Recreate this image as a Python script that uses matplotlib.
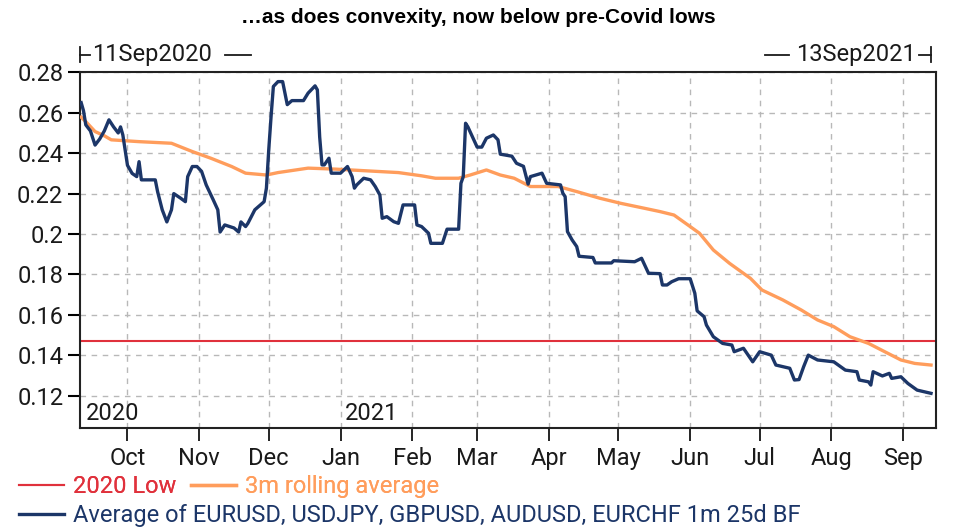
import matplotlib
matplotlib.use("Agg")
import matplotlib.pyplot as plt
import matplotlib.dates as mdates
from matplotlib.lines import Line2D
import pandas as pd

# 1m 25d butterfly average (navy)
bf_dates = [
    "2020-09-11", "2020-09-12", "2020-09-13", "2020-09-15", "2020-09-17", "2020-09-19",
    "2020-09-21", "2020-09-23", "2020-09-25", "2020-09-27", "2020-09-28", "2020-09-29",
    "2020-09-30", "2020-10-01", "2020-10-03", "2020-10-05", "2020-10-06", "2020-10-07",
    "2020-10-13", "2020-10-14", "2020-10-16", "2020-10-18", "2020-10-20", "2020-10-21",
    "2020-10-24", "2020-10-26", "2020-10-27", "2020-10-29", "2020-10-31", "2020-11-02",
    "2020-11-04", "2020-11-07", "2020-11-09", "2020-11-10", "2020-11-12", "2020-11-16",
    "2020-11-18", "2020-11-19", "2020-11-21", "2020-11-22", "2020-11-25", "2020-11-29",
    "2020-11-30", "2020-12-01", "2020-12-02", "2020-12-03", "2020-12-05", "2020-12-07",
    "2020-12-09", "2020-12-11", "2020-12-16", "2020-12-18", "2020-12-21", "2020-12-22",
    "2020-12-23", "2020-12-24", "2020-12-25", "2020-12-27", "2020-12-28", "2021-01-01",
    "2021-01-04", "2021-01-06", "2021-01-07", "2021-01-08", "2021-01-11", "2021-01-14",
    "2021-01-16", "2021-01-18", "2021-01-19", "2021-01-21", "2021-01-24", "2021-01-26",
    "2021-01-28", "2021-02-02", "2021-02-03", "2021-02-05", "2021-02-08", "2021-02-09",
    "2021-02-14", "2021-02-16", "2021-02-21", "2021-02-22", "2021-02-23", "2021-02-24",
    "2021-02-25", "2021-02-27", "2021-03-01", "2021-03-03", "2021-03-05", "2021-03-08",
    "2021-03-10", "2021-03-11", "2021-03-16", "2021-03-18", "2021-03-21", "2021-03-23",
    "2021-03-24", "2021-03-29", "2021-03-31", "2021-04-06", "2021-04-07", "2021-04-08",
    "2021-04-09", "2021-04-11", "2021-04-13", "2021-04-14", "2021-04-20", "2021-04-21",
    "2021-04-28", "2021-04-29", "2021-05-08", "2021-05-11", "2021-05-13", "2021-05-14",
    "2021-05-19", "2021-05-20", "2021-05-22", "2021-05-24", "2021-05-27", "2021-06-01",
    "2021-06-03", "2021-06-04", "2021-06-07", "2021-06-08", "2021-06-11", "2021-06-15",
    "2021-06-19", "2021-06-20", "2021-06-24", "2021-06-28", "2021-07-01", "2021-07-06",
    "2021-07-08", "2021-07-14", "2021-07-16", "2021-07-18", "2021-07-20", "2021-07-22",
    "2021-07-26", "2021-08-02", "2021-08-07", "2021-08-12", "2021-08-13", "2021-08-17",
    "2021-08-18", "2021-08-19", "2021-08-23", "2021-08-26", "2021-08-27", "2021-08-31",
    "2021-09-03", "2021-09-07", "2021-09-13",
]
bf_values = [
    0.265, 0.261, 0.254, 0.251, 0.244, 0.247,
    0.251, 0.2565, 0.253, 0.250, 0.253, 0.249,
    0.2416, 0.234, 0.230, 0.2284, 0.2358, 0.2268,
    0.2268, 0.221, 0.212, 0.206, 0.212, 0.220,
    0.2177, 0.216, 0.2284, 0.2334, 0.2334, 0.231,
    0.2243, 0.217, 0.212, 0.201, 0.2045, 0.203,
    0.201, 0.206, 0.2037, 0.2053, 0.212, 0.216,
    0.2227, 0.2416, 0.258, 0.273, 0.2754, 0.2754,
    0.264, 0.266, 0.266, 0.2697, 0.2733, 0.2713,
    0.248, 0.2342, 0.2342, 0.2375, 0.2301, 0.2301,
    0.2334, 0.2284, 0.2227, 0.2243, 0.2276, 0.2268,
    0.2235, 0.2193, 0.2078, 0.2086, 0.2061, 0.2053,
    0.2144, 0.2144, 0.2045, 0.2037, 0.2004, 0.1954,
    0.1954, 0.2024, 0.2024, 0.2251, 0.2284, 0.2548,
    0.2530, 0.248, 0.243, 0.243, 0.2474, 0.249,
    0.2466, 0.2395, 0.2385, 0.235, 0.2335, 0.2247,
    0.2284, 0.2301, 0.2251, 0.2243, 0.2202, 0.2185,
    0.2012, 0.1971, 0.1938, 0.189, 0.1884, 0.1857,
    0.1857, 0.1868, 0.1863, 0.188, 0.1831, 0.1806,
    0.1804, 0.1748, 0.1748, 0.1764, 0.1779, 0.1779,
    0.1707, 0.162, 0.1591, 0.155, 0.1492, 0.1459,
    0.1451, 0.1418, 0.1435, 0.1368, 0.1418, 0.1401,
    0.1352, 0.1336, 0.1278, 0.128, 0.1344, 0.1401,
    0.1377, 0.1368, 0.1327, 0.1319, 0.1278, 0.1269,
    0.1253, 0.1319, 0.1298, 0.1311, 0.1286, 0.1294,
    0.1261, 0.1228, 0.1212,
]

# 3m rolling average (orange)
avg_dates = [
    "2020-09-11", "2020-09-13", "2020-09-17", "2020-09-21", "2020-09-24", "2020-10-06",
    "2020-10-20", "2020-10-29", "2020-11-06", "2020-11-15", "2020-11-21", "2020-11-30",
    "2020-12-05", "2020-12-18", "2020-12-30", "2021-01-26", "2021-02-05", "2021-02-11",
    "2021-02-21", "2021-02-26", "2021-03-05", "2021-03-11", "2021-03-17", "2021-03-24",
    "2021-04-05", "2021-04-13", "2021-04-23", "2021-05-02", "2021-05-12", "2021-05-19",
    "2021-05-25", "2021-05-31", "2021-06-05", "2021-06-11", "2021-06-18", "2021-06-27",
    "2021-07-02", "2021-07-11", "2021-07-19", "2021-07-26", "2021-08-02", "2021-08-09",
    "2021-08-17", "2021-08-24", "2021-08-31", "2021-09-06", "2021-09-13",
]
avg_values = [
    0.2578, 0.2556, 0.2507, 0.2486, 0.2466, 0.2457,
    0.2449, 0.2408, 0.2375, 0.2334, 0.2301, 0.2292,
    0.2304, 0.2326, 0.2321, 0.2304, 0.2288, 0.2276,
    0.2276, 0.2292, 0.2317, 0.2292, 0.2276, 0.2235,
    0.2235, 0.221, 0.2177, 0.2152, 0.2128, 0.2111,
    0.2094, 0.2045, 0.2004, 0.1921, 0.1855, 0.1781,
    0.1723, 0.1674, 0.1624, 0.1575, 0.1542, 0.1492,
    0.1459, 0.1418, 0.1377, 0.136, 0.1352,
]

low_2020 = 0.147

y_ticks = [0.12, 0.14, 0.16, 0.18, 0.2, 0.22, 0.24, 0.26, 0.28]
y_labels = ["0.12", "0.14", "0.16", "0.18", "0.2", "0.22", "0.24", "0.26", "0.28"]

NAVY = "#1c3668"
ORANGE = "#ff9d5c"
RED = "#e0313c"
TXT = "#1a1a1a"
FS = 17

plt.rcParams["font.family"] = ["Roboto", "DejaVu Sans"]

bf_x = pd.to_datetime(bf_dates)
avg_x = pd.to_datetime(avg_dates)

fig = plt.figure(figsize=(9.57, 5.27), dpi=100)
ax = fig.add_axes([0.0836, 0.1884, 0.8941, 0.6744])

red_line = ax.axhline(low_2020, color=RED, linewidth=1.5, label="2020 Low", zorder=2)
orange_line, = ax.plot(avg_x, avg_values, color=ORANGE, linewidth=2.4,
                       label="3m rolling average", zorder=3)
navy_line, = ax.plot(bf_x, bf_values, color=NAVY, linewidth=2.4,
                     label="Average of EURUSD, USDJPY, GBPUSD, AUDUSD, EURCHF 1m 25d BF",
                     zorder=4)

ax.set_xlim(pd.Timestamp("2020-09-10 12:00"), pd.Timestamp("2021-09-15"))
ax.set_ylim(0.1042, 0.28)

ax.set_yticks(y_ticks)
ax.set_yticklabels(y_labels)
ax.xaxis.set_major_locator(mdates.MonthLocator())
ax.xaxis.set_major_formatter(mdates.DateFormatter("%b"))
ax.tick_params(axis="y", direction="out", length=9, width=1.5, labelsize=FS,
               labelcolor=TXT, pad=3)
ax.tick_params(axis="x", direction="out", length=9, width=1.2, labelsize=FS,
               labelcolor=TXT, pad=5)
for s in ax.spines.values():
    s.set_linewidth(1.5)
    s.set_color("#222222")

ax.grid(True, color="#b8b8b8", linestyle=(0, (4, 4)), linewidth=1.0)
ax.set_axisbelow(True)

# year markers inside the plot
ax.text(pd.Timestamp("2020-09-13"), 0.1055, "2020", fontsize=FS, color=TXT,
        ha="left", va="bottom")
ax.text(pd.Timestamp("2021-01-03"), 0.1055, "2021", fontsize=FS, color=TXT,
        ha="left", va="bottom")

# date range markers above the axes
ax.text(0.014, 1.049, "11Sep2020", transform=ax.transAxes, fontsize=FS,
        color=TXT, ha="left", va="center")
ax.text(0.977, 1.049, "13Sep2021", transform=ax.transAxes, fontsize=FS,
        color=TXT, ha="right", va="center")
deco = dict(transform=ax.transAxes, color=TXT, linewidth=1.3, clip_on=False)
ax.add_line(Line2D([0, 0], [1.028, 1.07], **deco))
ax.add_line(Line2D([0, 0.012], [1.049, 1.049], **deco))
ax.add_line(Line2D([0.169, 0.2], [1.049, 1.049], **deco))
ax.add_line(Line2D([0.8, 0.829], [1.049, 1.049], **deco))
ax.add_line(Line2D([0.98, 0.994], [1.049, 1.049], **deco))
ax.add_line(Line2D([0.994, 0.994], [1.028, 1.07], **deco))

fig.text(0.5, 0.966, "\u2026as does convexity, now below pre-Covid lows",
         ha="center", va="center", fontsize=15, fontweight="bold",
         family=["Liberation Sans", "DejaVu Sans"])

leg1 = fig.legend(handles=[red_line, orange_line], loc="center left",
                  bbox_to_anchor=(0.02, 0.076), ncol=2, frameon=False,
                  fontsize=FS, labelcolor="linecolor", handlelength=1.9,
                  handletextpad=0.4, columnspacing=0.6, borderaxespad=0,
                  borderpad=0)
fig.legend(handles=[navy_line], loc="center left",
           bbox_to_anchor=(0.02, 0.022), frameon=False, fontsize=FS,
           labelcolor="linecolor", handlelength=1.9, handletextpad=0.4,
           borderaxespad=0, borderpad=0)
fig.add_artist(leg1)

fig.savefig("out.png", dpi=100)
